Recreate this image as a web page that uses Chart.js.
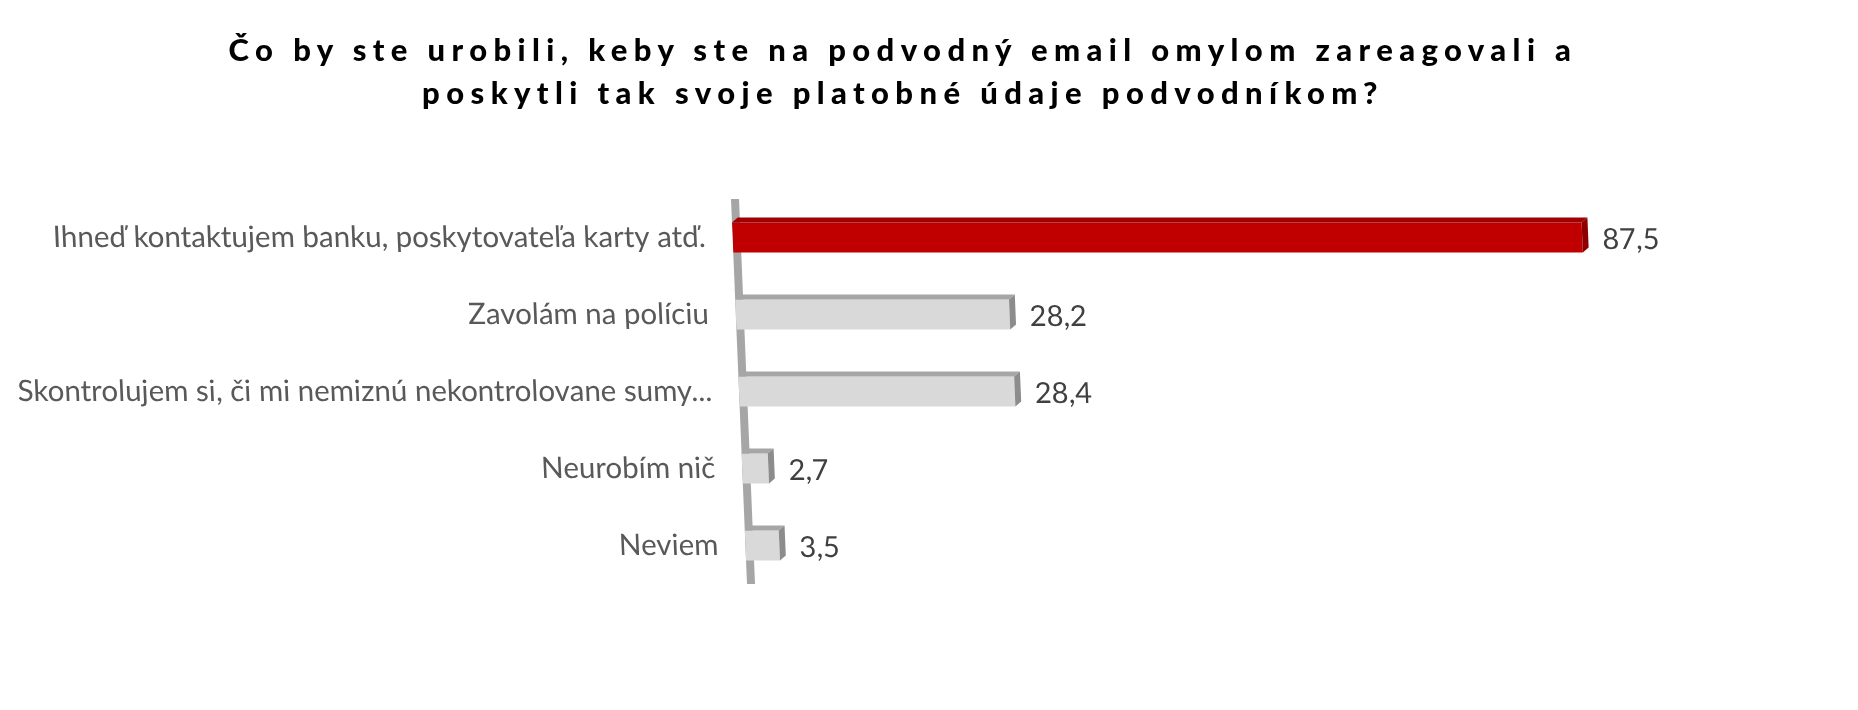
<!DOCTYPE html>
<html>
<head>
<meta charset="utf-8">
<script src="https://cdn.jsdelivr.net/npm/chart.js@4/dist/chart.umd.min.js"></script>
<style>
    html, body { margin: 0; padding: 0; background: #fff; }
    #wrap { position: relative; width: 1858px; height: 710px; }
    #chart { position: absolute; top: 0; left: 0; }
    #title {
        position: absolute; top: 28px; left: 0; width: 1806px;
        text-align: center; font-family: Lato, sans-serif; font-weight: 900;
        font-size: 31px; line-height: 43px; letter-spacing: 6.4px; color: #000;
    }
</style>
</head>
<body>
<div id="wrap">
    <canvas id="chart" width="1858" height="710"></canvas>
    <div id="title">Čo by ste urobili, keby ste na podvodný email omylom zareagovali a<br>poskytli tak svoje platobné údaje podvodníkom?</div>
</div>
<script>
const categories = [
    "Ihneď kontaktujem banku, poskytovateľa karty atď.",
    "Zavolám na políciu",
    "Skontrolujem si, či mi nemiznú nekontrolovane sumy...",
    "Neurobím nič",
    "Neviem",
];
const values = [87.5, 28.2, 28.4, 2.7, 3.5];

const frontColors = ["#C00000", "#D9D9D9", "#D9D9D9", "#D9D9D9", "#D9D9D9"];
const topColors = ["#A00000", "#A6A6A6", "#A6A6A6", "#A6A6A6", "#A6A6A6"];
const sideColors = ["#8E0000", "#8C8C8C", "#8C8C8C", "#8C8C8C", "#8C8C8C"];

// the excel 3D look: everything leans right a little, bars get a top and a side face
const slant = 16 / 385;
const depthX = 6;
const depthY = 5;

const perspectivePlugin = {
    id: "perspective",
    beforeDraw(chart) {
        const ctx = chart.ctx;
        ctx.save();
        ctx.transform(1, 0, slant, 1, -slant * chart.chartArea.top, 0);
    },
    beforeDatasetsDraw(chart) {
        const { ctx, chartArea } = chart;
        ctx.fillStyle = "#A6A6A6";
        ctx.fillRect(chartArea.left, chartArea.top, 8, chartArea.bottom - chartArea.top);
    },
    afterDatasetsDraw(chart) {
        const ctx = chart.ctx;
        const meta = chart.getDatasetMeta(0);
        meta.data.forEach((bar, i) => {
            const top = bar.y - bar.height / 2;
            const bottom = bar.y + bar.height / 2;

            ctx.fillStyle = topColors[i];
            ctx.beginPath();
            ctx.moveTo(bar.base, top);
            ctx.lineTo(bar.x, top);
            ctx.lineTo(bar.x + depthX, top - depthY);
            ctx.lineTo(bar.base + depthX, top - depthY);
            ctx.closePath();
            ctx.fill();

            ctx.fillStyle = sideColors[i];
            ctx.beginPath();
            ctx.moveTo(bar.x, top);
            ctx.lineTo(bar.x + depthX, top - depthY);
            ctx.lineTo(bar.x + depthX, bottom - depthY);
            ctx.lineTo(bar.x, bottom);
            ctx.closePath();
            ctx.fill();

            ctx.font = "29px Lato, sans-serif";
            ctx.fillStyle = "#404040";
            ctx.textAlign = "left";
            ctx.textBaseline = "middle";
            ctx.fillText(values[i].toFixed(1).replace(".", ","), bar.x + 20, bar.y + 2);
        });
        ctx.restore();
    }
};

new Chart(document.getElementById("chart"), {
    type: "bar",
    data: {
        labels: categories,
        datasets: [{
            data: values,
            backgroundColor: frontColors,
            borderWidth: 0,
            barPercentage: 0.39,
            categoryPercentage: 1,
        }],
    },
    options: {
        indexAxis: "y",
        responsive: false,
        animation: false,
        layout: {
            padding: { top: 199, bottom: 126, left: 0, right: 156 },
        },
        plugins: {
            legend: { display: false },
            tooltip: { enabled: false },
        },
        scales: {
            x: {
                display: false,
                min: 0,
                max: 100,
            },
            y: {
                afterFit: (scale) => { scale.width = 731; },
                grid: { display: false, drawTicks: false },
                border: { display: false },
                ticks: {
                    padding: 27,
                    color: "#595959",
                    font: { family: "Lato", size: 29.5 },
                },
            },
        },
    },
    plugins: [perspectivePlugin],
});
</script>
</body>
</html>
